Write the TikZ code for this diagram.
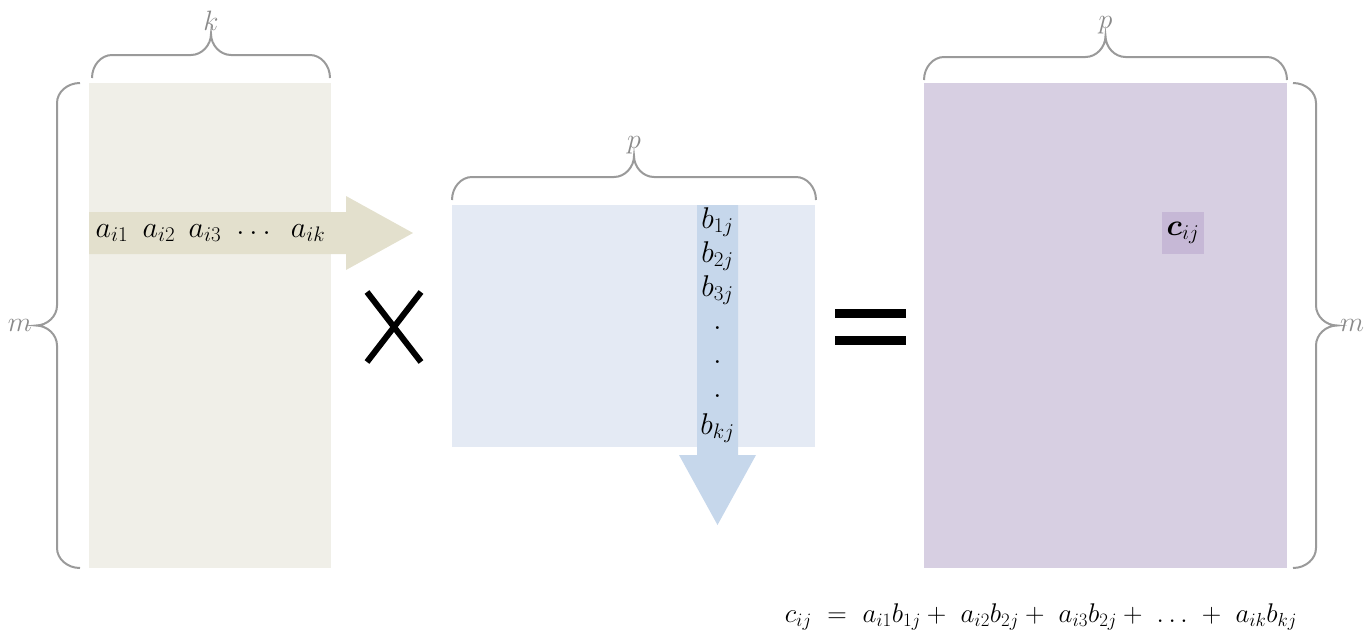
\documentclass[tikz,border=0pt]{standalone}
\usepackage{fix-cm}
\usepackage{amsmath}
\usetikzlibrary{calc}
\definecolor{aFill}{HTML}{F0EFE8}
\definecolor{aRow}{HTML}{E3E0CD}
\definecolor{bFill}{HTML}{E4EAF4}
\definecolor{bCol}{HTML}{C6D7EB}
\definecolor{cFill}{HTML}{D7CFE2}
\definecolor{cCell}{HTML}{C6B8D6}
\definecolor{braceGray}{HTML}{9A9A9A}
\definecolor{lblGray}{HTML}{8A8A8A}
\tikzset{
  mtx/.style={inner sep=0, outer sep=0, draw=none},
  brc/.style={draw=braceGray, line width=2pt},
  dimlbl/.style={text=lblGray, inner sep=0, font=\fontsize{28}{32}\selectfont},
  ent/.style={inner sep=0, font=\fontsize{30}{34}\selectfont},
  opr/.style={line width=6pt, black},
  pics/dimbrace/.style={code={
    \draw[brc] (0,0) .. controls (0,-12.6) and (9,-23) .. (20,-23) -- ({#1/2-20},-23)
      .. controls ({#1/2-9},-23) and ({#1/2},-33) .. ({#1/2},-44)
      .. controls ({#1/2},-33) and ({#1/2+9},-23) .. ({#1/2+20},-23)
      -- ({#1-20},-23) .. controls ({#1-9},-23) and (#1,-12.6) .. (#1,0);
    \coordinate (-tip) at ({#1/2},-44);
  }},
}
\begin{document}
\begin{tikzpicture}[x=1pt,y=-1pt]
  \useasboundingbox (0,0) rectangle (1365,632);
  % matrices
  \node[mtx, fill=aFill, minimum width=242pt, minimum height=485pt] (A) at (210,325.5) {};
  \node[mtx, fill=bFill, minimum width=363pt, minimum height=242pt] (B) at (633.5,326) {};
  \node[mtx, fill=cFill, minimum width=363pt, minimum height=485pt] (C) at (1105.5,325.5) {};
  % row of A and column of B
  \fill[aRow] (89,212) -- (346,212) -- (346,196) -- (413,233) -- (346,270) -- (346,254) -- (89,254) -- cycle;
  \fill[bCol] (697,205) -- (738,205) -- (738,455) -- (756,455) -- (717.5,525) -- (679,455) -- (697,455) -- cycle;
  \node[mtx, fill=cCell, minimum size=42pt] (cij) at (1183,233) {};
  % entries
  \foreach \xx/\lb [count=\i] in {112/{a_{i1}}, 159/{a_{i2}}, 205/{a_{i3}}, 256/{\dots}, 308/{a_{ik}}}
    \node[ent] (a\i) at (\xx,233) {$\lb$};
  \foreach \yy/\lb [count=\i] in {222/{b_{1j}}, 256/{b_{2j}}, 290/{b_{3j}}, 328/{.}, 362/{.}, 396/{.}, 428/{b_{kj}}}
    \node[ent] (b\i) at (717.5,\yy) {$\lb$};
  \node[ent] at (cij) {$\boldsymbol{c}_{ij}$};
  % braces
  \pic (kbr) at ($(A.north west)+(3,-5)$) {dimbrace=238};
  \pic[rotate=90] (mbrA) at ($(A.south west)+(-9,0)$) {dimbrace=485};
  \pic (pbrB) at ($(B.north west)+(0,-5)$) {dimbrace=364};
  \pic (pbrC) at ($(C.north west)+(0,-3)$) {dimbrace=363};
  \pic[rotate=-90] (mbrC) at ($(C.north east)+(6,0)$) {dimbrace=485};
  \node[dimlbl, anchor=south] (k) at ($(kbr-tip)+(0,-3)$) {$k$};
  \node[dimlbl, anchor=east] (m1) at ($(mbrA-tip)+(-4,0)$) {$m$};
  \node[dimlbl, anchor=south] (p1) at ($(pbrB-tip)+(0,-2)$) {$p$};
  \node[dimlbl, anchor=south] (p2) at ($(pbrC-tip)+(0,-2)$) {$p$};
  \node[dimlbl, anchor=west] (m2) at ($(mbrC-tip)+(3,0)$) {$m$};
  % operators
  \draw[opr] (367,292) -- (421,362);
  \draw[opr] (421,292) -- (367,362);
  \fill (835,309) rectangle (906,318);
  \fill (835,336) rectangle (906,345);
  % result formula
  \node[ent, font=\fontsize{27}{31}\selectfont] (sum) at (1041,617)
    {$c_{ij}\ =\ a_{i1}b_{1j} +\ a_{i2}b_{2j} +\ a_{i3}b_{2j} +\ \dots\ +\ a_{ik}b_{kj}$};
\end{tikzpicture}
\end{document}
